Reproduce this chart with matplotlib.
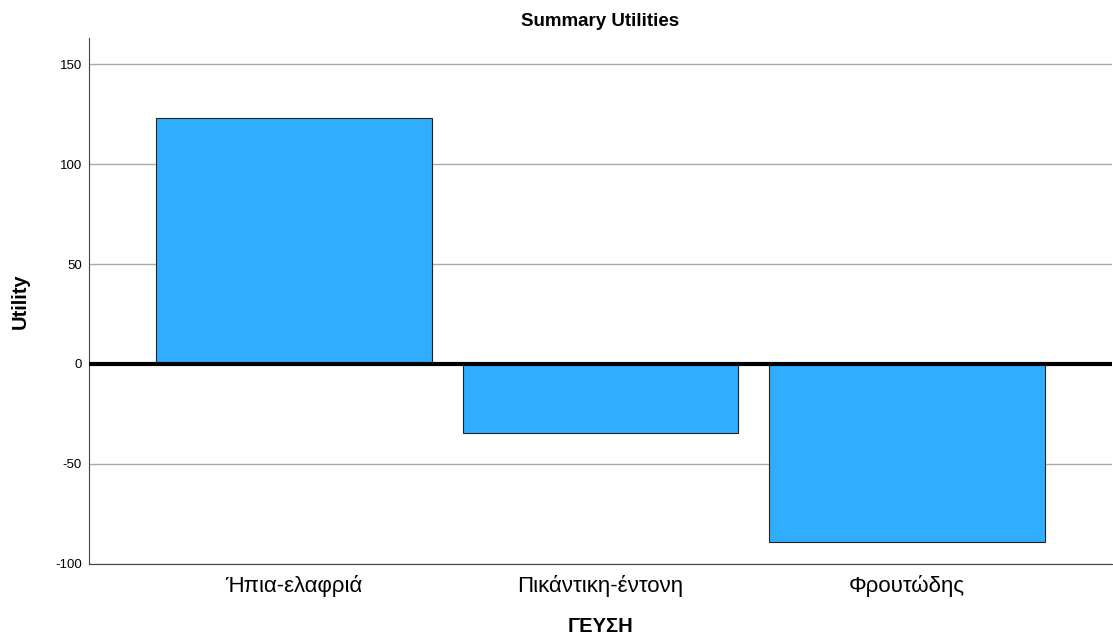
import matplotlib
matplotlib.use('Agg')
import matplotlib.pyplot as plt

categories = ['Ήπια-ελαφριά', 'Πικάντικη-έντονη', 'Φρουτώδης']
utilities = [123, -34.5, -89]
yticks = [-100, -50, 0, 50, 100, 150]

plt.rcParams['font.family'] = ['Liberation Sans', 'DejaVu Sans']

fig = plt.figure(figsize=(11.13, 6.39), dpi=100)
ax = fig.add_axes([0.08, 0.1174, 0.919, 0.8231])

ax.bar(range(len(categories)), utilities, width=0.9, color='#31adff',
       edgecolor='#222222', linewidth=0.8, zorder=2)
ax.axhline(0, color='black', linewidth=3, zorder=3)

ax.set_xlim(-0.67, 2.67)
ax.set_ylim(-100, 163)
ax.set_yticks(yticks)
ax.set_yticklabels([str(v) for v in yticks], fontsize=9.5)
ax.set_xticks(range(len(categories)))
ax.set_xticklabels(categories, fontsize=16)
ax.tick_params(axis='y', length=0, pad=5)
ax.tick_params(axis='x', length=0, pad=8)
ax.yaxis.grid(True, color='#aaaaaa', linewidth=1, zorder=0)

ax.spines['top'].set_visible(False)
ax.spines['right'].set_visible(False)
ax.spines['left'].set_color('#444444')
ax.spines['bottom'].set_color('#444444')

ax.set_title('Summary Utilities', fontsize=13.5, fontweight='bold', pad=9)
ax.set_ylabel('Utility', fontsize=14.5, fontweight='bold')
ax.yaxis.set_label_coords(-0.067, 0.5)
ax.set_xlabel('ΓΕΥΣΗ', fontsize=14.5, fontweight='bold')
ax.xaxis.set_label_coords(0.5, -0.118)
ax.xaxis.label.set_va('center')
ax.yaxis.label.set_va('center')

fig.savefig('out.png', dpi=100)
